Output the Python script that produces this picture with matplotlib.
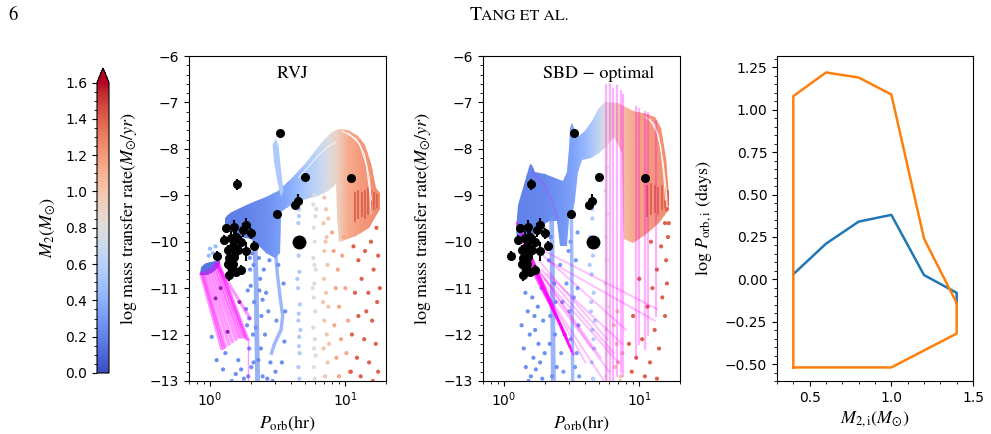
import numpy as np
import matplotlib.pyplot as plt
from matplotlib import cm, colors

plt.rcParams.update({
    "font.family": "DejaVu Sans",
    "font.size": 10,
    "mathtext.fontset": "stix",
    "xtick.labelsize": 10,
    "ytick.labelsize": 10,
})
SERIF = "STIXGeneral"

# ---------------- observed systems (both panels) ----------------
obs_P = [3.32, 1.58, 5.07, 11.1, 4.25, 4.45, 3.14, 1.12, 1.31, 1.51, 1.85, 2.01, 2.13,
         1.27, 1.43, 1.56, 1.70, 1.47, 1.35, 1.39, 1.51, 1.35, 1.43, 1.56, 1.39, 1.70,
         1.85, 1.74, 1.60, 1.47]
obs_y = [-7.66, -8.76, -8.60, -8.62, -9.20, -9.13, -9.41, -10.30, -9.71, -9.68, -9.64, -9.82, -10.09,
         -9.96, -9.93, -9.89, -10.00, -10.10, -10.18, -10.36, -10.32, -10.47, -10.54, -10.65, -10.72, -10.61,
         -10.21, -9.75, -10.18, -10.47]
obs_err = [0.0, 0.12, 0.06, 0.0, 0.06, 0.15, 0.08, 0.10, 0.10, 0.15, 0.15, 0.12, 0.10,
           0.10, 0.15, 0.15, 0.12, 0.20, 0.10, 0.15, 0.12, 0.10, 0.15, 0.10, 0.12, 0.10,
           0.20, 0.15, 0.12, 0.10]
big_P = [4.55]
big_y = [-10.01]

# ---------------- RVJ panel ----------------
rvj_band = [(1.30, -9.50), (1.40, -9.38), (1.60, -9.30), (2.00, -9.17), (2.60, -9.03), (3.20, -8.90),
            (4.00, -8.65), (5.00, -8.32), (6.00, -8.05), (7.00, -7.80), (8.00, -7.63), (9.00, -7.58),
            (10.5, -7.60), (12.5, -7.72), (14.0, -7.92), (15.5, -8.30), (16.8, -8.85), (18.0, -8.95),
            (18.0, -9.30), (17.0, -9.45), (15.0, -9.70), (12.0, -9.88), (9.0, -10.0), (8.7, -9.40),
            (8.5, -8.75), (7.5, -8.90), (6.5, -9.00), (5.5, -9.05), (4.6, -9.12), (3.8, -9.25),
            (3.35, -9.35), (3.3, -10.25), (3.0, -10.35), (2.6, -10.25), (2.3, -10.10), (2.0, -9.95),
            (1.7, -9.90), (1.45, -9.80), (1.3, -9.65)]
rvj_grad_P = [1.0, 1.8, 2.6, 3.3, 4.2, 5.2, 6.3, 7.5, 8.8, 10.5, 13.0, 18.0]
rvj_grad_m = [0.18, 0.20, 0.25, 0.32, 0.42, 0.55, 0.65, 0.78, 0.92, 1.12, 1.20, 1.26]
rvj_spike = [(2.90, -7.92), (3.08, -7.78), (3.22, -7.95), (3.35, -8.45), (3.50, -8.90),
             (3.35, -9.05), (3.15, -8.70), (2.98, -8.30)]
rvj_spike_m = 0.55
rvj_plateau = [(0.84, -10.72), (0.86, -10.55), (0.92, -10.47), (1.00, -10.44), (1.08, -10.42),
               (1.14, -10.38), (1.19, -10.42), (1.16, -10.55), (1.05, -10.66), (0.95, -10.72)]
rvj_plateau_m = 0.15
rvj_fan_P0 = [0.86, 0.88, 0.90, 0.94, 0.98, 1.02, 1.06, 1.09, 1.12, 1.14, 1.15, 1.13]
rvj_fan_y0 = [-10.70, -10.69, -10.68, -10.66, -10.63, -10.60, -10.56, -10.52, -10.48, -10.45, -10.44, -10.50]
rvj_fan_P1 = [1.22, 1.26, 1.30, 1.38, 1.46, 1.55, 1.62, 1.70, 1.78, 1.85, 1.90, 1.98]
rvj_fan_y1 = [-12.30, -12.28, -12.25, -12.20, -12.15, -12.10, -12.05, -12.05, -12.05, -12.08, -12.10, -11.65]
rvj_drop_P = [1.90, 1.90]
rvj_drop_y = [-12.10, -13.0]
rvj_purple_P = [1.10, 1.20, 1.35, 1.65]
rvj_purple_y = [-11.22, -11.00, -11.94, -11.30]
rvj_strip1_P = [2.15, 2.20, 2.22, 2.25]
rvj_strip1_y = [-10.0, -11.0, -12.0, -13.0]
rvj_strip2_P = [3.05, 3.15, 3.30, 3.45, 3.35, 3.00, 2.85]
rvj_strip2_y = [-10.2, -10.7, -11.2, -11.6, -11.9, -12.2, -12.4]
rvj_comb_P = [11.8, 12.5, 13.2, 14.0, 14.8, 15.6, 16.4, 17.2]
rvj_comb_top = [-8.95, -8.90, -8.95, -8.90, -8.85, -8.90, -8.95, -9.00]
rvj_comb_bot = [-9.55, -9.50, -9.45, -9.50, -9.40, -9.35, -9.30, -9.25]
rvj_gap1 = [(9.5, -7.62), (12.0, -7.78), (13.8, -8.10), (15.0, -8.60), (15.6, -9.10)]
rvj_gap2 = [(10.5, -7.66), (12.8, -7.90), (14.3, -8.35), (15.2, -8.95), (15.5, -9.40)]
rvj_gap3 = [(4.5, -8.62), (5.5, -8.35), (6.5, -8.10), (7.5, -7.95), (8.5, -7.85)]

rvj_dots = {
    0.25: [(1.03, -12.05), (1.12, -12.55), (1.25, -12.75), (1.30, -12.40), (1.55, -12.85), (1.62, -12.55),
           (1.70, -12.75), (1.78, -12.95), (1.45, -13.0), (1.85, -11.45), (1.90, -11.05), (1.95, -11.65),
           (1.98, -10.60), (2.00, -10.95), (1.95, -12.30), (2.02, -12.70), (1.92, -12.90), (1.88, -11.80),
           (2.10, -10.50), (2.35, -10.80), (2.12, -11.30), (2.40, -11.60), (2.08, -12.00), (2.38, -12.30),
           (2.45, -12.90), (2.10, -12.60), (2.50, -10.60), (2.60, -11.10), (2.70, -11.50), (2.55, -12.00),
           (2.80, -12.60), (2.65, -12.95), (2.90, -13.0), (3.05, -12.80), (2.75, -10.40), (3.50, -10.90),
           (3.60, -11.50), (2.45, -11.25), (2.30, -10.35), (2.05, -10.25), (2.28, -12.55), (2.18, -11.85),
           (2.32, -11.05), (1.97, -10.35), (3.20, -10.50), (3.10, -11.70), (3.55, -12.15), (3.40, -12.60)],
    0.45: [(1.00, -10.15), (1.05, -10.25), (1.10, -10.10), (0.98, -10.30), (1.13, -10.30)],
    0.55: [(4.55, -9.30), (4.50, -9.60), (4.60, -9.95), (4.52, -10.30), (4.58, -10.65), (4.48, -11.00),
           (4.62, -11.35), (4.50, -11.70), (4.56, -12.05), (4.60, -12.40), (4.50, -12.70), (4.58, -12.95),
           (4.42, -10.80), (4.66, -11.90), (4.54, -9.45), (4.57, -10.10), (4.53, -11.55), (4.55, -12.25)],
    0.80: [(5.90, -9.00), (5.80, -9.20), (6.00, -9.45), (5.85, -9.70), (5.95, -10.00), (5.80, -10.35),
           (6.05, -10.60), (5.90, -10.90), (5.85, -11.20), (6.00, -11.50), (5.80, -11.85), (5.95, -12.10),
           (6.05, -12.45), (5.85, -12.70), (5.95, -12.95), (6.10, -9.30), (5.75, -11.00), (5.92, -10.50),
           (5.88, -12.30)],
    1.00: [(7.00, -9.05), (7.20, -9.30), (6.90, -9.60), (7.30, -9.90), (7.00, -10.20), (7.40, -10.50),
           (6.95, -10.80), (7.20, -11.10), (7.50, -11.40), (7.00, -11.70), (7.30, -12.00), (6.90, -12.30),
           (7.40, -12.60), (7.10, -12.90), (7.60, -12.20), (6.85, -11.30), (7.50, -9.50), (7.15, -10.00)],
    1.15: [(8.2, -10.2), (8.8, -10.6), (9.5, -10.3), (8.5, -11.0), (10.0, -11.0), (9.0, -11.4),
           (8.3, -11.8), (10.5, -11.7), (9.3, -12.1), (8.6, -12.5), (10.2, -12.4), (9.0, -12.9),
           (10.8, -12.8), (8.0, -9.8), (9.8, -9.9)],
    1.40: [(11.5, -10.1), (12.5, -10.4), (14.0, -10.2), (15.5, -10.0), (17.0, -9.7), (17.5, -10.3),
           (16.2, -10.6), (13.2, -10.8), (11.8, -11.1), (14.8, -11.1), (17.2, -11.3), (12.5, -11.6),
           (15.8, -11.7), (11.2, -12.0), (13.8, -12.1), (16.8, -12.2), (12.2, -12.5), (15.0, -12.6),
           (17.5, -12.8), (13.0, -12.9), (11.0, -12.8), (16.0, -13.0), (14.3, -11.5), (18.0, -11.0)],
}

# ---------------- SBD-optimal panel ----------------
sbd_band = [(1.22, -9.75), (1.28, -9.20), (1.42, -8.70), (1.55, -8.32), (1.62, -8.35), (1.70, -8.50),
            (2.00, -8.55), (2.40, -8.62), (2.75, -8.70), (2.90, -8.50), (3.00, -8.00), (3.10, -7.55),
            (3.18, -7.45), (3.30, -7.55), (3.60, -7.72), (4.00, -7.62), (4.50, -7.40), (5.00, -7.12),
            (5.60, -6.98), (7.00, -7.02), (9.00, -7.18), (11.5, -7.24), (13.0, -7.32), (14.5, -7.55),
            (15.8, -8.20), (16.5, -9.00), (16.6, -9.30), (14.0, -9.60), (11.0, -9.85), (9.0, -10.02),
            (7.7, -9.95), (7.5, -8.10), (6.5, -7.75), (5.7, -7.95), (5.0, -8.10), (4.4, -8.20),
            (3.8, -8.25), (3.5, -8.50), (3.35, -9.10), (3.2, -9.45), (3.0, -9.50), (2.9, -10.10),
            (2.6, -10.10), (2.45, -9.55), (2.2, -9.55), (1.9, -9.65), (1.6, -9.85), (1.4, -9.95),
            (1.25, -9.95)]
sbd_grad_P = [1.2, 2.0, 2.8, 3.3, 4.0, 4.8, 5.6, 6.8, 8.5, 11.0, 14.0, 17.0]
sbd_grad_m = [0.20, 0.23, 0.30, 0.35, 0.45, 0.60, 0.80, 0.95, 1.10, 1.18, 1.22, 1.26]
sbd_comb_P = [11.5, 12.2, 13.0, 13.8, 14.6, 15.4, 16.2]
sbd_comb_top = [-8.80, -8.75, -8.80, -8.85, -8.80, -8.85, -8.90]
sbd_comb_bot = [-9.45, -9.40, -9.35, -9.40, -9.30, -9.25, -9.20]
sbd_gap1 = [(11.0, -7.30), (13.0, -7.48), (14.4, -7.95), (15.3, -8.70), (15.6, -9.10)]
sbd_gap2 = [(12.0, -7.36), (13.8, -7.70), (15.0, -8.30), (15.9, -8.95), (16.1, -9.30)]
sbd_strip1_P = [2.25, 2.28, 2.30, 2.32]
sbd_strip1_y = [-9.5, -10.8, -12.0, -13.0]
sbd_strip2_P = [3.15, 3.18, 3.20, 3.22]
sbd_strip2_y = [-9.4, -10.8, -12.0, -13.0]
sbd_grey_P = [5.75, 5.74, 5.76, 5.74]
sbd_grey_y = [-7.9, -9.5, -11.2, -13.0]
sbd_diag_P0 = [1.25, 1.30, 1.35, 1.40, 1.45]
sbd_diag_y0 = [-9.60, -9.75, -9.95, -10.15, -10.35]
sbd_diag_P1 = [3.25, 3.15, 3.05, 2.95, 2.85]
sbd_diag_y1 = [-12.42, -12.35, -12.25, -12.12, -12.00]
sbd_fan_P0 = [1.60, 1.70, 1.65, 1.80, 1.75, 1.90, 2.00, 1.85, 2.10, 1.95, 1.70, 2.10]
sbd_fan_y0 = [-10.4, -10.5, -10.6, -10.4, -10.7, -10.6, -10.8, -10.9, -10.7, -10.3, -10.1, -10.4]
sbd_fan_P1 = [4.5, 5.2, 4.0, 5.8, 6.0, 6.5, 7.0, 5.5, 7.5, 8.0, 13.5, 13.0]
sbd_fan_y1 = [-12.3, -12.5, -12.6, -12.1, -12.8, -12.4, -12.6, -13.0, -12.2, -11.9, -11.45, -11.7]
sbd_arc = [(1.62, -8.50), (1.95, -8.75), (2.25, -9.10), (2.50, -9.50)]
sbd_vert_P = [5.67, 6.06, 6.43, 6.80, 7.29, 7.53, 9.44, 10.0, 11.0, 11.65, 13.3]
sbd_vert_top = [-6.62, -6.60, -6.70, -6.65, -6.75, -6.85, -7.10, -7.15, -7.20, -7.22, -7.40]
sbd_vert_bot = [-13.0, -13.0, -13.0, -12.9, -12.8, -12.9, -12.5, -12.2, -12.3, -12.0, -11.6]

sbd_dots = {
    0.25: [(1.35, -11.8), (1.40, -12.3), (1.45, -12.7), (1.50, -11.5), (1.55, -12.0), (1.58, -12.9),
           (1.62, -11.2), (1.65, -12.5), (1.70, -11.9), (1.72, -12.75), (1.78, -11.4), (1.80, -12.2),
           (1.85, -12.6), (1.90, -11.0), (1.92, -12.95), (1.95, -11.7), (2.00, -12.4), (1.52, -13.0),
           (1.68, -11.6), (1.44, -11.1), (2.15, -10.4), (2.40, -11.3), (2.18, -12.2), (2.45, -12.7),
           (2.22, -9.9), (2.35, -10.9), (2.20, -11.6), (2.38, -12.0), (2.27, -12.9)],
    0.30: [(2.60, -10.5), (2.70, -11.3), (2.80, -12.0), (2.75, -12.8), (2.90, -10.9), (3.40, -10.4),
           (3.50, -11.0), (3.55, -11.8), (3.45, -12.4), (3.60, -12.9), (3.50, -9.8), (2.65, -12.4),
           (3.05, -11.5), (3.35, -12.7), (3.00, -10.2), (3.10, -10.0), (3.28, -11.2), (3.12, -12.1)],
    0.55: [(4.40, -9.1), (4.50, -9.5), (4.35, -9.9), (4.55, -10.3), (4.45, -10.7), (4.60, -11.1),
           (4.40, -11.5), (4.50, -11.9), (4.65, -12.3), (4.45, -12.6), (4.55, -12.95), (4.30, -10.5),
           (4.70, -11.7), (4.48, -9.3), (4.52, -10.0), (4.42, -11.3), (4.58, -12.1)],
    0.80: [(5.70, -7.9), (5.75, -8.4), (5.65, -8.9), (5.80, -9.4), (5.70, -9.9), (5.75, -10.4),
           (5.65, -10.9), (5.80, -11.4), (5.70, -11.9), (5.75, -12.4), (5.70, -12.9)],
    1.00: [(6.5, -11.8), (6.8, -12.2), (7.0, -12.6), (7.3, -12.9), (6.6, -12.7), (7.5, -12.4),
           (6.9, -11.5), (7.2, -13.0)],
    1.40: [(16.0, -9.3), (15.5, -9.6), (16.3, -9.9), (14.5, -10.1), (15.8, -10.4), (13.5, -10.6),
           (16.0, -10.9), (12.5, -11.0), (14.8, -11.2), (11.5, -11.4), (15.5, -11.6), (13.0, -11.9),
           (10.5, -12.1), (14.0, -12.3), (9.5, -12.5), (12.0, -12.6), (8.8, -12.8), (11.0, -12.9),
           (13.5, -12.95), (9.0, -11.6), (10.0, -10.8), (12.2, -10.0), (8.4, -12.2), (16.5, -9.6)],
}

# ---------------- right panel: initial parameter space ----------------
blue_M2 = [0.4, 0.6, 0.8, 1.0, 1.2, 1.4, 1.4]
blue_logP = [0.03, 0.21, 0.34, 0.38, 0.025, -0.08, -0.14]
orange_M2 = [0.4, 0.4, 0.6, 0.8, 1.0, 1.2, 1.4, 1.4, 1.0, 0.4]
orange_logP = [-0.52, 1.08, 1.22, 1.19, 1.09, 0.24, -0.14, -0.32, -0.52, -0.52]

mdot_ticks = [-13, -12, -11, -10, -9, -8, -7, -6]
p3_xticks = [0.5, 1.0, 1.5]
p3_yticks = [-0.5, -0.25, 0.0, 0.25, 0.5, 0.75, 1.0, 1.25]
cbar_ticks = [0.0, 0.2, 0.4, 0.6, 0.8, 1.0, 1.2, 1.4, 1.6]

cmap = plt.get_cmap("coolwarm")
norm = colors.Normalize(vmin=0.0, vmax=1.6)


def col(m):
    return cmap(norm(m))


def gradient_region(ax, pts, gP, gm, z=2):
    P, y = np.array(pts).T
    patch = ax.fill(P, y, facecolor="none", edgecolor="none", zorder=z)[0]
    X = np.array([gP, gP])
    Y = np.array([[-14.0] * len(gP), [-5.0] * len(gP)])
    C = np.array([gm, gm])
    mesh = ax.pcolormesh(X, Y, C, cmap=cmap, norm=norm, shading="gouraud", zorder=z)
    mesh.set_clip_path(patch)


def solid_region(ax, pts, m, z=2, alpha=1.0):
    P, y = np.array(pts).T
    ax.fill(P, y, color=col(m), lw=0, zorder=z, alpha=alpha)


def dots(ax, groups):
    for m, pts in groups.items():
        P, y = np.array(pts).T
        ax.scatter(P, y, s=9, color=col(m), edgecolors="none", zorder=3)


def white_gap(ax, pts, lw=0.8):
    P, y = np.array(pts).T
    ax.plot(P, y, color="white", lw=lw, alpha=0.9, zorder=2.5)


def observations(ax):
    ax.errorbar(obs_P, obs_y, yerr=obs_err, fmt="o", color="k", ms=5.5,
                elinewidth=1.5, capsize=0, zorder=6)
    ax.plot(big_P, big_y, "o", color="k", ms=9, zorder=6)


def style_mdot_axis(ax, title, tx):
    ax.set_xscale("log")
    ax.set_xlim(0.7, 20)
    ax.set_ylim(-13, -6)
    ax.set_yticks(mdot_ticks)
    ax.yaxis.set_minor_locator(plt.matplotlib.ticker.AutoMinorLocator())
    ax.set_xlabel(r"$P_{\rm orb}$(hr)", fontfamily=SERIF, fontsize=13, labelpad=3)
    ax.set_ylabel(r"log mass transfer rate$(M_{\odot}/yr)$", fontfamily=SERIF, fontsize=13, labelpad=8)
    ax.text(tx, 0.945, title, transform=ax.transAxes, ha="center", va="center",
            fontfamily=SERIF, fontsize=13)


fig = plt.figure(figsize=(9.91, 4.34), dpi=100)
ax1 = fig.add_axes([189 / 991, 53 / 434, 197 / 991, 325 / 434])
ax2 = fig.add_axes([483 / 991, 53 / 434, 197 / 991, 325 / 434])
ax3 = fig.add_axes([777 / 991, 53 / 434, 196 / 991, 325 / 434])
cax = fig.add_axes([97 / 991, 61 / 434, 12 / 991, 305 / 434])

# ---- panel 1: RVJ ----
gradient_region(ax1, rvj_band, rvj_grad_P, rvj_grad_m)
solid_region(ax1, rvj_spike, rvj_spike_m, z=2.2)
solid_region(ax1, rvj_plateau, rvj_plateau_m, z=2.2)
for P, top, bot in zip(rvj_comb_P, rvj_comb_top, rvj_comb_bot):
    ax1.plot([P, P], [top, bot], color=col(1.4), lw=1.3, zorder=2.4)
white_gap(ax1, rvj_gap1)
white_gap(ax1, rvj_gap2)
white_gap(ax1, rvj_gap3, lw=0.6)
ax1.plot(rvj_strip1_P, rvj_strip1_y, color=col(0.25), lw=3.5, alpha=0.7, zorder=3)
ax1.plot(rvj_strip2_P, rvj_strip2_y, color=col(0.3), lw=2.5, alpha=0.7, zorder=3)
dots(ax1, rvj_dots)
for p0, y0, p1, y1 in zip(rvj_fan_P0, rvj_fan_y0, rvj_fan_P1, rvj_fan_y1):
    ax1.plot([p0, p1], [y0, y1], color="#ff00ff", lw=2.4, alpha=0.4, zorder=4)
ax1.plot(rvj_drop_P, rvj_drop_y, color="#ff00ff", lw=1.0, alpha=0.4, zorder=4)
ax1.scatter(rvj_purple_P, rvj_purple_y, s=8, color="#9020b0", edgecolors="none", zorder=4.5)
observations(ax1)
style_mdot_axis(ax1, "RVJ", 0.524)

# ---- panel 2: SBD - optimal ----
gradient_region(ax2, sbd_band, sbd_grad_P, sbd_grad_m)
for P, top, bot in zip(sbd_comb_P, sbd_comb_top, sbd_comb_bot):
    ax2.plot([P, P], [top, bot], color=col(1.4), lw=1.3, zorder=2.4)
white_gap(ax2, sbd_gap1)
white_gap(ax2, sbd_gap2)
ax2.plot(sbd_strip1_P, sbd_strip1_y, color=col(0.28), lw=3.5, alpha=0.7, zorder=3)
ax2.plot(sbd_strip2_P, sbd_strip2_y, color=col(0.32), lw=2.5, alpha=0.7, zorder=3)
ax2.plot(sbd_grey_P, sbd_grey_y, color=col(0.8), lw=1.8, alpha=0.8, zorder=3)
dots(ax2, sbd_dots)
for P, top, bot in zip(sbd_vert_P, sbd_vert_top, sbd_vert_bot):
    ax2.plot([P, P], [top, bot], color="#ff00ff", lw=1.6, alpha=0.3, zorder=4)
for p0, y0, p1, y1 in zip(sbd_fan_P0, sbd_fan_y0, sbd_fan_P1, sbd_fan_y1):
    ax2.plot([p0, p1], [y0, y1], color="#ff00ff", lw=1.4, alpha=0.25, zorder=4)
for p0, y0, p1, y1 in zip(sbd_diag_P0, sbd_diag_y0, sbd_diag_P1, sbd_diag_y1):
    ax2.plot([p0, p1], [y0, y1], color="#ff00ff", lw=1.8, alpha=0.6, zorder=4)
aP, ay = np.array(sbd_arc).T
ax2.plot(aP, ay, color="#c040ff", lw=1.2, alpha=0.35, zorder=4)
observations(ax2)
style_mdot_axis(ax2, "SBD − optimal", 0.585)

# ---- panel 3 ----
ax3.plot(blue_M2, blue_logP, color="#1f77b4", lw=1.8)
ax3.plot(orange_M2, orange_logP, color="#ff7f0e", lw=1.8)
ax3.set_xlim(0.3, 1.5)
ax3.set_ylim(-0.6, 1.317)
ax3.set_xticks(p3_xticks)
ax3.set_yticks(p3_yticks)
ax3.xaxis.set_minor_locator(plt.matplotlib.ticker.AutoMinorLocator())
ax3.yaxis.set_minor_locator(plt.matplotlib.ticker.AutoMinorLocator())
ax3.set_xlabel(r"$M_{2,\rm i}(M_{\odot})$", fontfamily=SERIF, fontsize=13, labelpad=3)
ax3.set_ylabel(r"log $P_{\rm orb,i}$ (days)", fontfamily=SERIF, fontsize=13, labelpad=8)

# ---- colorbar ----
cb = fig.colorbar(cm.ScalarMappable(norm=norm, cmap=cmap), cax=cax, extend="max")
cb.set_ticks(cbar_ticks)
cax.yaxis.set_ticks_position("left")
cax.yaxis.set_label_position("left")
cax.minorticks_on()
cb.set_label(r"$M_2(M_{\odot})$", fontfamily=SERIF, fontsize=13, labelpad=6)

# ---- page header ----
fig.text(8 / 991, 1 - 20 / 434, "6", fontfamily=SERIF, fontsize=13.5, va="baseline")
fig.text(470 / 991, 1 - 20 / 434, "T", fontfamily=SERIF, fontsize=14, va="baseline")
fig.text(481 / 991, 1 - 20 / 434, "ANG ET AL.", fontfamily=SERIF, fontsize=11.5, va="baseline")

fig.savefig("out.png", dpi=100)
